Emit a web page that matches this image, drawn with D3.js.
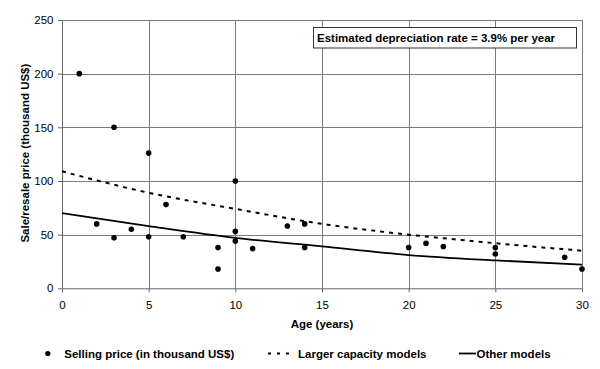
<!DOCTYPE html>
<meta charset="utf-8">
<script src="https://d3js.org/d3.v7.min.js"></script>
<style>
  body { margin: 0; background: #fff; }
  text { font-family: "Liberation Sans", Arial, sans-serif; fill: #000; }
</style>
<div id="my_dataviz"></div>
<script>

// selling prices (age in years, price in thousand US$)
var ages   = [1, 2, 3, 3, 4, 5, 5, 6, 7, 9, 9, 10, 10, 10, 11, 13, 14, 14, 20, 21, 22, 25, 25, 29, 30];
var prices = [200, 60, 150, 47, 55, 126, 48, 78, 48, 38, 18, 100, 53, 44, 37, 58, 60, 38, 38, 42, 39, 38, 32, 29, 18];

// the two fitted curves, read every 5 years
var curveAges   = [0, 5, 10, 15, 20, 25, 30];
var largerModels = [109, 89, 74, 60, 50, 42, 35];
var otherModels  = [70, 58, 47, 39, 31, 26, 22];

var xTicks = [0, 5, 10, 15, 20, 25, 30];
var yTicks = [0, 50, 100, 150, 200, 250];

var margin = {top: 20, left: 62},
  width = 520,
  height = 268.3;

var svg = d3.select("#my_dataviz")
  .append("svg")
    .attr("width", 600)
    .attr("height", 369);

var g = svg.append("g")
  .attr("transform", "translate(" + margin.left + "," + margin.top + ")");

var x = d3.scaleLinear().domain([0, 30]).range([0, width]);
var y = d3.scaleLinear().domain([0, 250]).range([height, 0]);

// grid lines
g.selectAll("hgrid")
  .data(yTicks.slice(1)).enter()
  .append("line")
    .attr("x1", 0).attr("x2", width)
    .attr("y1", function(d) { return Math.round(y(d)) + 0.5; })
    .attr("y2", function(d) { return Math.round(y(d)) + 0.5; })
    .style("stroke", "#7a7a7a");

g.selectAll("vgrid")
  .data(xTicks.slice(1)).enter()
  .append("line")
    .attr("y1", 0).attr("y2", height)
    .attr("x1", function(d) { return Math.round(x(d)) + 0.5; })
    .attr("x2", function(d) { return Math.round(x(d)) + 0.5; })
    .style("stroke", "#7a7a7a");

// axes
var xAxis = g.append("g")
  .attr("transform", "translate(0," + height + ")")
  .call(d3.axisBottom(x).tickValues(xTicks).tickSize(4).tickPadding(9).tickSizeOuter(0));

var yAxis = g.append("g")
  .call(d3.axisLeft(y).tickValues(yTicks).tickSize(4).tickPadding(4.5).tickSizeOuter(0));

[xAxis, yAxis].forEach(function(a) {
  a.selectAll("path, line").style("stroke", "#666");
  a.selectAll("text")
    .style("font-family", "'Liberation Sans', Arial, sans-serif")
    .style("font-size", "11.5px")
    .style("fill", "#000");
});

// fitted curves
var line = d3.line()
  .x(function(d) { return x(d[0]); })
  .y(function(d) { return y(d[1]); })
  .curve(d3.curveMonotoneX);

g.append("path")
  .datum(curveAges.map(function(a, i) { return [a, largerModels[i]]; }))
  .attr("d", line)
  .style("fill", "none")
  .style("stroke", "#000")
  .style("stroke-width", 2)
  .style("stroke-dasharray", "4,5");

g.append("path")
  .datum(curveAges.map(function(a, i) { return [a, otherModels[i]]; }))
  .attr("d", line)
  .style("fill", "none")
  .style("stroke", "#000")
  .style("stroke-width", 1.8);

// selling price dots
g.selectAll("dot")
  .data(ages.map(function(a, i) { return [a, prices[i]]; }))
  .enter()
  .append("circle")
    .attr("cx", function(d) { return x(d[0]); })
    .attr("cy", function(d) { return y(d[1]); })
    .attr("r", 2.8)
    .style("fill", "#000");

// annotation box
svg.append("rect")
  .attr("x", 313.5).attr("y", 27.5)
  .attr("width", 263).attr("height", 20.5)
  .style("fill", "#fff")
  .style("stroke", "#333");

svg.append("text")
  .attr("x", 317).attr("y", 41.5)
  .style("font-size", "11.5px")
  .style("font-weight", "bold")
  .text("Estimated depreciation rate = 3.9% per year");

// axis titles
svg.append("text")
  .attr("x", margin.left + width / 2).attr("y", 328)
  .style("text-anchor", "middle")
  .style("font-size", "11.5px")
  .style("font-weight", "bold")
  .text("Age (years)");

svg.append("text")
  .attr("transform", "translate(29," + (margin.top + height / 2 - 1) + ") rotate(-90)")
  .style("text-anchor", "middle")
  .style("font-size", "11.5px")
  .style("font-weight", "bold")
  .text("Sale/resale price (thousand US$)");

// legend
var ly = 353.5;
svg.append("circle")
  .attr("cx", 47.8).attr("cy", ly).attr("r", 2.6)
  .style("fill", "#000");
svg.append("line")
  .attr("x1", 268).attr("x2", 292).attr("y1", ly).attr("y2", ly)
  .style("stroke", "#000").style("stroke-width", 2)
  .style("stroke-dasharray", "3,6");
svg.append("line")
  .attr("x1", 459).attr("x2", 476).attr("y1", ly).attr("y2", ly)
  .style("stroke", "#000").style("stroke-width", 1.8);

var legendText = [
  {x: 64.3, t: "Selling price (in thousand US$)"},
  {x: 298, t: "Larger capacity models"},
  {x: 476.5, t: "Other models"}
];
svg.selectAll("legendText")
  .data(legendText).enter()
  .append("text")
    .attr("x", function(d) { return d.x; })
    .attr("y", 358)
    .style("font-size", "11.5px")
    .style("font-weight", "bold")
    .text(function(d) { return d.t; });

</script>
